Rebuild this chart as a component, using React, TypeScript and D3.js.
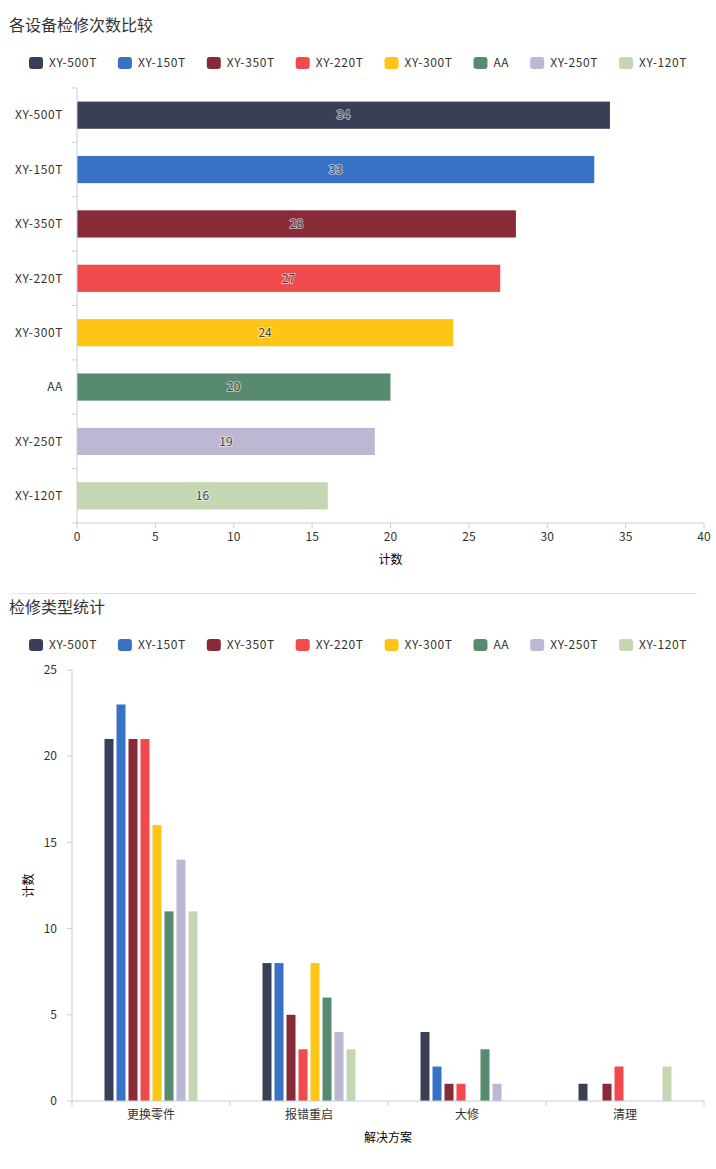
import * as d3 from "d3";
import React, { useMemo } from "react";

// devices, in legend / bar order
const devices = ["XY-500T", "XY-150T", "XY-350T", "XY-220T", "XY-300T", "AA", "XY-250T", "XY-120T"];
const colors = ["#3a3f58", "#3872c5", "#872b37", "#f04a4d", "#fec516", "#578b6f", "#bcb7d3", "#c5d6b3"];

// top chart: total repairs per device
const totals = [34, 33, 28, 27, 24, 20, 19, 16];

// bottom chart: repair type per device
const solutions = ["更换零件", "报错重启", "大修", "清理"];
const byType: number[][] = [
  [21, 8, 4, 1], // XY-500T
  [23, 8, 2, 0], // XY-150T
  [21, 5, 1, 1], // XY-350T
  [21, 3, 1, 2], // XY-220T
  [16, 8, 0, 0], // XY-300T
  [11, 6, 3, 0], // AA
  [14, 4, 1, 0], // XY-250T
  [11, 3, 0, 2], // XY-120T
];

const W = 716;
const H = 1169;
const FONT = "'Microsoft YaHei', 'Noto Sans CJK SC', 'Noto Sans', sans-serif";
const AXIS = "#c5d0da";
const TEXT = "#333";
const LS = 0.6; // latin labels are a touch wider in the original font

function measure(text: string, size = 12) {
  const c = document.createElement("canvas").getContext("2d");
  if (!c) return text.length * 6.8;
  c.font = `${size}px ${FONT}`;
  return c.measureText(text).width + text.length * LS;
}

function Legend({ y }: { y: number }) {
  const items = useMemo(() => {
    const widths = devices.map((d) => measure(d));
    const itemW = widths.map((w) => 14 + 6 + w + 21);
    const total = d3.sum(itemW) - 21;
    let x = W / 2 - total / 2;
    return devices.map((d, i) => {
      const pos = x;
      x += itemW[i];
      return { d, x: pos, color: colors[i] };
    });
  }, []);
  return (
    <g>
      {items.map((it) => (
        <g key={it.d} transform={`translate(${it.x},${y})`}>
          <rect x={0} y={-6} width={14} height={12} rx={3} fill={it.color} />
          <text x={20} dy="0.35em" fontSize={12} fill={TEXT} letterSpacing={LS}>
            {it.d}
          </text>
        </g>
      ))}
    </g>
  );
}

function TopChart() {
  const x = d3.scaleLinear([0, 40], [77, 704]);
  const y = d3.scaleBand(devices, [88, 523]);
  const bw = y.bandwidth();
  const bounds = d3.range(devices.length + 1).map((i) => 88 + i * bw);
  return (
    <g>
      <text x={9} y={31} fontSize={16} fill={TEXT}>各设备检修次数比较</text>
      <Legend y={63} />
      {devices.map((d, i) => (
        <rect key={d} x={x(0)} y={(y(d) ?? 0) + bw * 0.25} width={x(totals[i]) - x(0)} height={bw * 0.5} fill={colors[i]} />
      ))}
      {devices.map((d, i) => (
        <text
          key={d}
          x={(x(0) + x(totals[i])) / 2}
          y={(y(d) ?? 0) + bw / 2}
          dy="0.35em"
          textAnchor="middle"
          fontSize={12}
          fill="#444"
          stroke="#fff"
          strokeWidth={2}
          strokeOpacity={0.55}
          paintOrder="stroke"
        >
          {totals[i]}
        </text>
      ))}
      {/* y axis */}
      <line x1={77} x2={77} y1={88} y2={523} stroke={AXIS} />
      {bounds.map((b) => (
        <line key={b} x1={72} x2={77} y1={b} y2={b} stroke={AXIS} />
      ))}
      {devices.map((d) => (
        <text key={d} x={63} y={(y(d) ?? 0) + bw / 2} dy="0.35em" textAnchor="end" fontSize={12} fill={TEXT} letterSpacing={LS}>
          {d}
        </text>
      ))}
      {/* x axis */}
      <line x1={77} x2={704} y1={523} y2={523} stroke={AXIS} />
      {x.ticks(8).map((t) => (
        <g key={t} transform={`translate(${x(t)},523)`}>
          <line y2={5} stroke={AXIS} />
          <text y={14} dy="0.35em" textAnchor="middle" fontSize={12} fill={TEXT}>
            {t}
          </text>
        </g>
      ))}
      <text x={(77 + 704) / 2} y={560} dy="0.35em" textAnchor="middle" fontSize={12} fill="#000">计数</text>
    </g>
  );
}

function BottomChart() {
  const x = d3.scaleBand(solutions, [72, 704]);
  const sub = d3.scaleBand(devices, [-46.5, 46.5]).paddingInner(0.25);
  const y = d3.scaleLinear([0, 25], [1101, 670]);
  const bw = x.bandwidth();
  const bounds = d3.range(solutions.length + 1).map((i) => 72 + i * bw);
  return (
    <g>
      <line x1={12} x2={697} y1={593.5} y2={593.5} stroke="#e3e3e3" />
      <text x={9} y={613} fontSize={16} fill={TEXT}>检修类型统计</text>
      <Legend y={645} />
      {devices.map((d, i) =>
        solutions.map((s, j) => {
          const v = byType[i][j];
          if (!v) return null;
          const cx = (x(s) ?? 0) + bw / 2;
          return (
            <rect key={d + s} x={cx + (sub(d) ?? 0)} y={y(v)} width={sub.bandwidth()} height={y(0) - y(v)} fill={colors[i]} />
          );
        })
      )}
      {/* y axis */}
      <line x1={72} x2={72} y1={670} y2={1101} stroke={AXIS} />
      {y.ticks(5).map((t) => (
        <g key={t} transform={`translate(72,${y(t)})`}>
          <line x1={-5} x2={0} stroke={AXIS} />
          <text x={-15} dy="0.35em" textAnchor="end" fontSize={12} fill={TEXT}>
            {t}
          </text>
        </g>
      ))}
      <text transform={`translate(29,${(670 + 1101) / 2}) rotate(-90)`} dy="0.35em" textAnchor="middle" fontSize={12} fill="#000">
        计数
      </text>
      {/* x axis */}
      <line x1={72} x2={704} y1={1101} y2={1101} stroke={AXIS} />
      {bounds.map((b) => (
        <line key={b} x1={b} x2={b} y1={1101} y2={1106} stroke={AXIS} />
      ))}
      {solutions.map((s) => (
        <text key={s} x={(x(s) ?? 0) + bw / 2} y={1115} dy="0.35em" textAnchor="middle" fontSize={12} fill={TEXT}>
          {s}
        </text>
      ))}
      <text x={(72 + 704) / 2} y={1138} dy="0.35em" textAnchor="middle" fontSize={12} fill="#000">解决方案</text>
    </g>
  );
}

export default function App() {
  return (
    <svg
      width={W}
      height={H}
      viewBox={`0 0 ${W} ${H}`}
      style={{ position: "absolute", left: 0, top: 0, background: "#fff" }}
      fontFamily={FONT}
    >
      <TopChart />
      <BottomChart />
    </svg>
  );
}
